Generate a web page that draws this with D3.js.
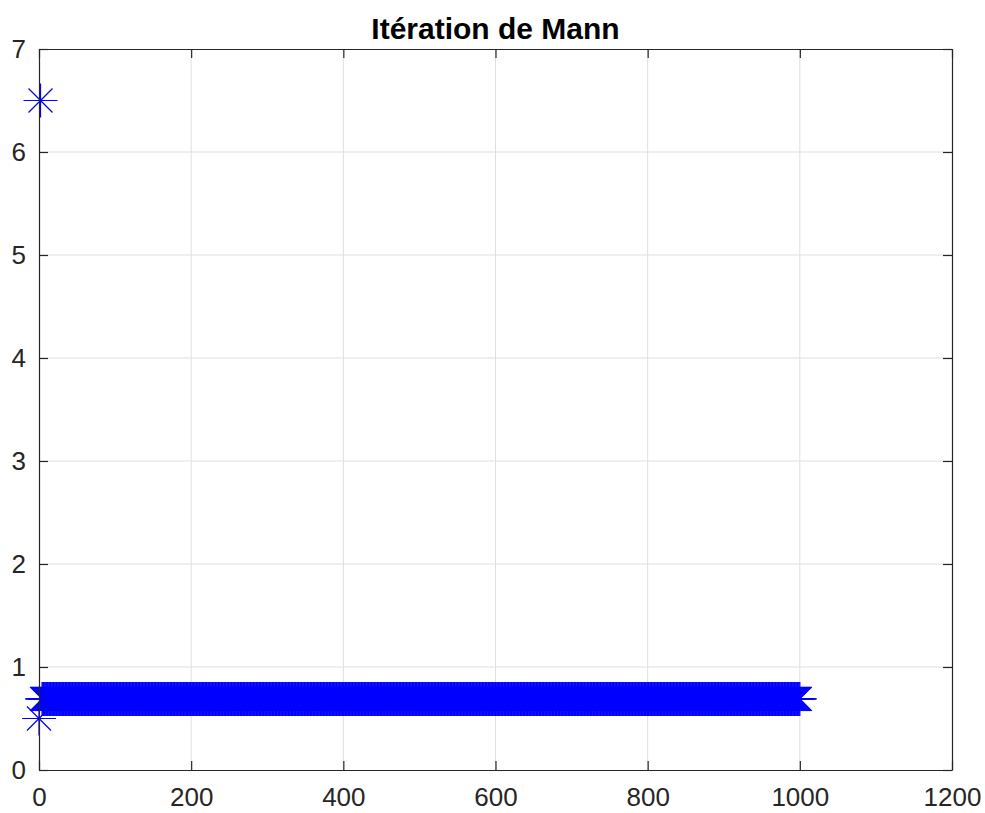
<!DOCTYPE html>
<html>
<head>
<meta charset="utf-8">
<script src="https://cdn.jsdelivr.net/npm/d3@7"></script>
<style>
  html, body { margin: 0; padding: 0; background: #fff; }
  svg { display: block; }
</style>
</head>
<body>
<script>
// ---- data ----
const title = "Itération de Mann";
const xTicks = [0, 200, 400, 600, 800, 1000, 1200];
const yTicks = [0, 1, 2, 3, 4, 5, 6, 7];
const xDomain = [0, 1200];
const yDomain = [0, 7];
// isolated early iterates
const earlyX = [0, 2];
const earlyY = [0.5, 6.5];
// converged iterates: constant value from n = 4 to n = 1000
const convergedValue = 0.69;
const convergedFirstN = 4;
const convergedLastN = 1000;

// ---- layout ----
const W = 985, H = 813;
const m = { left: 39, right: 33, top: 49, bottom: 43 };
const iw = W - m.left - m.right, ih = H - m.top - m.bottom;
const axisColor = "#262626";
const gridColor = "#dfdfdf";
const markerColor = "#0000ff";
const fontFam = "Helvetica, Arial, 'Liberation Sans', sans-serif";

const svg = d3.select("body").append("svg").attr("width", W).attr("height", H);
const g = svg.append("g").attr("transform", `translate(${m.left},${m.top})`);

const x = d3.scaleLinear().domain(xDomain).range([0, iw]);
const y = d3.scaleLinear().domain(yDomain).range([ih, 0]);

// grid
g.append("g").selectAll("line").data(xTicks.slice(1, -1)).join("line")
  .attr("x1", d => x(d)).attr("x2", d => x(d)).attr("y1", 0).attr("y2", ih)
  .attr("stroke", gridColor).attr("stroke-width", 1);
g.append("g").selectAll("line").data(yTicks.slice(1, -1)).join("line")
  .attr("y1", d => y(d)).attr("y2", d => y(d)).attr("x1", 0).attr("x2", iw)
  .attr("stroke", gridColor).attr("stroke-width", 1);

// data points
const pts = earlyX.map((d, i) => ({ x: d, y: earlyY[i] }))
  .concat(d3.range(convergedFirstN, convergedLastN + 1).map(n => ({ x: n, y: convergedValue })));

const r = 17, rd = 12;
const starPath = `M${-r},0L${r},0M0,${-r}L0,${r}M${-rd},${-rd}L${rd},${rd}M${-rd},${rd}L${rd},${-rd}`;
g.append("g").selectAll("path").data(pts).join("path")
  .attr("transform", d => `translate(${x(d.x)},${y(d.y)})`)
  .attr("d", starPath)
  .attr("fill", "none")
  .attr("stroke", markerColor)
  .attr("stroke-width", 1.2);

// axes (box with inward ticks on all sides)
const tl = 9;
const axB = d3.axisBottom(x).tickValues(xTicks).tickSizeInner(-tl).tickSizeOuter(0).tickPadding(18).tickFormat(d3.format("d"));
const axT = d3.axisTop(x).tickValues(xTicks).tickSizeInner(-tl).tickSizeOuter(0).tickFormat("");
const axL = d3.axisLeft(y).tickValues(yTicks).tickSizeInner(-tl).tickSizeOuter(0).tickPadding(13).tickFormat(d3.format("d"));
const axR = d3.axisRight(y).tickValues(yTicks).tickSizeInner(-tl).tickSizeOuter(0).tickFormat("");

function style(sel) {
  sel.select(".domain").attr("stroke", axisColor).attr("stroke-width", 1.2);
  sel.selectAll(".tick line").attr("stroke", axisColor).attr("stroke-width", 1.2);
  sel.selectAll(".tick text").attr("fill", axisColor).style("font-family", fontFam).style("font-size", "26px");
}
g.append("g").attr("transform", `translate(0,${ih})`).call(axB).call(style);
g.append("g").call(axT).call(style);
g.append("g").call(axL).call(style);
g.append("g").attr("transform", `translate(${iw},0)`).call(axR).call(style);

// title
svg.append("text")
  .attr("x", m.left + iw / 2).attr("y", 38.5)
  .attr("text-anchor", "middle")
  .attr("fill", "#000")
  .style("font-family", fontFam).style("font-weight", "bold").style("font-size", "30px")
  .text(title);
</script>
</body>
</html>
